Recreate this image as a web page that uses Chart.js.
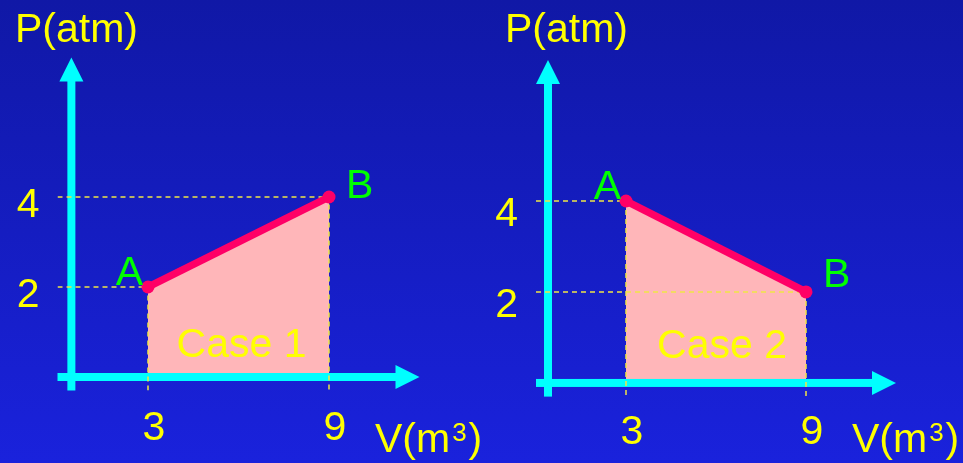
<!DOCTYPE html>
<html>
<head>
<meta charset="utf-8">
<script src="https://cdn.jsdelivr.net/npm/chart.js@4"></script>
<style>
html, body { margin: 0; padding: 0; }
body {
    width: 963px; height: 463px; overflow: hidden; position: relative;
    background: linear-gradient(#1018a6, #1a22dc);
}
.box { position: absolute; top: 0; height: 463px; }
</style>
</head>
<body>
<div class="box" style="left:0;width:480px"><canvas id="case1"></canvas></div>
<div class="box" style="left:480px;width:483px"><canvas id="case2"></canvas></div>
<script>
// P-V diagram values
var volume = [3, 9];
var pressure1 = [2, 4];
var pressure2 = [4, 2];
var pointNames = ['A', 'B'];
var xTicks = [3, 9];
var yTicks = [2, 4];
var caseNames = ['Case 1', 'Case 2'];

var FONT = '"Liberation Sans", Arial, sans-serif';
var YELLOW = '#ffff00';
var CYAN = '#00ffff';

// chart area edges inside each canvas
var panels = [
    { id: 'case1', w: 480, left: 57.5, right: 419.5, top: 53, bottom: 390.5, axisX: 0.46, titleX: 15, vX: 375,
      yLabelOff: 9, xPad: 6, bShift: 1, caseDx: 3, caseDy: 20 },
    { id: 'case2', w: 483, left: 56, right: 416, top: 55.4, bottom: 396.6, axisX: 0.4, titleX: 25, vX: 372,
      yLabelOff: 14, xPad: 3, bShift: -5, caseDx: 6, caseDy: 25 }
];

function arrowsAndText(panel, caseName) {
    return {
        id: 'pvDecor',
        afterDatasetDraw: function (chart, args) {
            if (args.index !== 0) return;
            var c = chart.ctx, x = chart.scales.x, y = chart.scales.y;
            var ax = x.getPixelForValue(panel.axisX);
            var y0 = y.getPixelForValue(0);
            var tipY = y.getPixelForValue(7.1);
            var tipX = chart.chartArea.right;
            c.save();
            c.fillStyle = CYAN;
            // y axis
            c.fillRect(ax - 4, tipY + 20, 8, chart.chartArea.bottom - tipY - 20);
            c.beginPath();
            c.moveTo(ax, tipY); c.lineTo(ax - 12, tipY + 24); c.lineTo(ax + 12, tipY + 24);
            c.closePath(); c.fill();
            // x axis
            var x0 = x.getPixelForValue(0);
            c.fillRect(x0, y0 - 4, tipX - x0 - 20, 8);
            c.beginPath();
            c.moveTo(tipX, y0); c.lineTo(tipX - 24, y0 - 12); c.lineTo(tipX - 24, y0 + 12);
            c.closePath(); c.fill();
            c.restore();
        },
        afterDatasetsDraw: function (chart) {
            var c = chart.ctx, x = chart.scales.x, y = chart.scales.y;
            var meta = chart.getDatasetMeta(chart.data.datasets.length - 1);
            c.save();
            c.font = '41px ' + FONT;
            c.textBaseline = 'alphabetic';
            c.fillStyle = YELLOW;
            c.textAlign = 'left';
            c.fillText('P(atm)', panel.titleX, 42);
            // V(m3) with superscript
            c.fillText('V(m', panel.vX, 452);
            var w = c.measureText('V(m').width;
            c.font = '26px ' + FONT;
            c.fillText('3', panel.vX + w + 2, 441);
            var w3 = c.measureText('3').width;
            c.font = '41px ' + FONT;
            c.fillText(')', panel.vX + w + w3 + 4, 452);
            // case label
            c.textAlign = 'center';
            var mid = (x.getPixelForValue(volume[0]) + x.getPixelForValue(volume[1])) / 2 + panel.caseDx;
            c.fillText(caseName, mid, y.getPixelForValue(0) - panel.caseDy);
            // point names
            c.fillStyle = '#00ff00';
            meta.data.forEach(function (pt, i) {
                if (i === 0) {
                    c.textAlign = 'right';
                    c.fillText(pointNames[i], pt.x - 5, pt.y - 2);
                } else {
                    c.textAlign = 'left';
                    c.fillText(pointNames[i], pt.x + 17, pt.y + panel.bShift);
                }
            });
            c.restore();
        }
    };
}

function makeChart(panel, pressure, caseName) {
    var pts = volume.map(function (v, i) { return { x: v, y: pressure[i] }; });
    var guides = volume.map(function (v, i) {
        return {
            data: [{ x: 0, y: pressure[i] }, { x: v, y: pressure[i] }, { x: v, y: -0.3 }],
            borderColor: '#f0e646',
            borderWidth: 1.5,
            borderDash: [5, 4],
            pointRadius: 0,
            fill: false,
            order: 2
        };
    });
    var datasets = [{
        data: pts,
        borderWidth: 0,
        pointRadius: 0,
        backgroundColor: '#ffb6b9',
        fill: 'origin',
        order: 5
    }].concat(guides).concat([{
        data: pts,
        borderColor: '#ff0066',
        borderWidth: 7.5,
        pointRadius: 6.5,
        pointBackgroundColor: '#ff0066',
        pointBorderWidth: 0,
        fill: false,
        order: 1
    }]);

    var tickFont = { family: FONT, size: 41 };
    new Chart(document.getElementById(panel.id), {
        type: 'line',
        data: { datasets: datasets },
        options: {
            animation: false,
            responsive: true,
            maintainAspectRatio: false,
            layout: { padding: { left: 0, right: panel.w - panel.right, top: panel.top, bottom: 0 } },
            plugins: { legend: { display: false }, tooltip: { enabled: false } },
            elements: { line: { tension: 0 } },
            scales: {
                x: {
                    type: 'linear', min: 0, max: 12,
                    grid: { display: false }, border: { display: false },
                    afterBuildTicks: function (s) { s.ticks = xTicks.map(function (v) { return { value: v }; }); },
                    afterFit: function (s) { s.height = 463 - panel.bottom; },
                    ticks: { color: YELLOW, font: tickFont, padding: panel.xPad, labelOffset: 6, maxRotation: 0, autoSkip: false }
                },
                y: {
                    type: 'linear', min: -0.3, max: 7.2,
                    grid: { display: false }, border: { display: false },
                    afterBuildTicks: function (s) { s.ticks = yTicks.map(function (v) { return { value: v }; }); },
                    afterFit: function (s) { s.width = panel.left; },
                    ticks: { color: YELLOW, font: tickFont, padding: 10, labelOffset: panel.yLabelOff, autoSkip: false }
                }
            }
        },
        plugins: [arrowsAndText(panel, caseName)]
    });
}

makeChart(panels[0], pressure1, caseNames[0]);
makeChart(panels[1], pressure2, caseNames[1]);
</script>
</body>
</html>
